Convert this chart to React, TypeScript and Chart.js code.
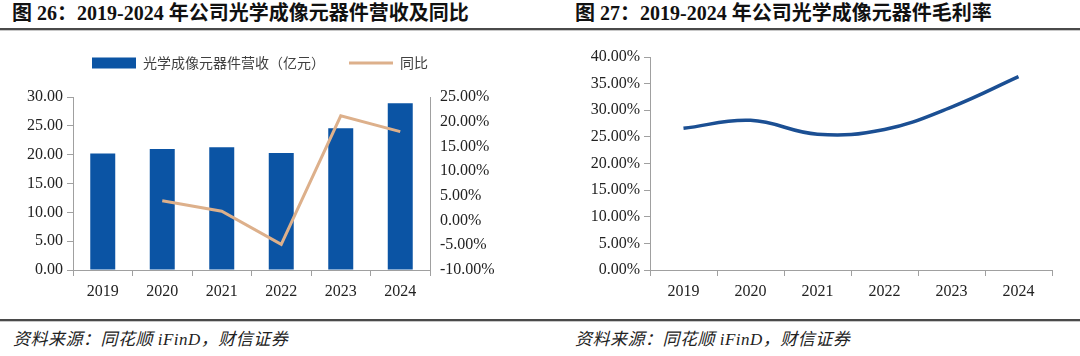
import React, { useEffect, useRef } from "react";
import { Chart, registerables } from "chart.js";

Chart.register(...registerables);

// ---------- data ----------
const years = ["2019", "2020", "2021", "2022", "2023", "2024"];
const revenue = [20.2, 21.0, 21.3, 20.3, 24.6, 28.9]; // 亿元
const yoyGrowth = [null, 4.0, 1.9, -4.8, 21.2, 18.0]; // %
const grossMargin = [26.6, 28.1, 25.5, 26.4, 30.6, 36.3]; // %

const revenueAxis = { min: 0, max: 30, step: 5 };
const growthAxis = { min: -10, max: 25, step: 5 };
const marginAxis = { min: 0, max: 40, step: 5 };

const revenueLabel = "光学成像元器件营收（亿元）";
const growthLabel = "同比";
const title1 = "图 26：2019-2024 年公司光学成像元器件营收及同比";
const title2 = "图 27：2019-2024 年公司光学成像元器件毛利率";
const sourceText = "资料来源：同花顺 iFinD，财信证券";

// ---------- styles ----------
const BAR_COLOR = "#0b54a4";
const GROWTH_COLOR = "#ddb08b";
const MARGIN_COLOR = "#1b4f93";
const AXIS_COLOR = "#a0a0a0";
const TICK_FONT = { family: "'Liberation Serif', 'Times New Roman', serif", size: 16 };
const TICK_COLOR = "#222";

const legendGap = (extra: number) => ({
  id: "legendGap",
  beforeInit(chart: any) {
    const lg = chart.legend;
    if (!lg || lg._gapPatched) return;
    const fit = lg.fit;
    lg.fit = function () {
      fit.call(this);
      this.height += extra;
    };
    lg._gapPatched = true;
  },
});

function RevenueChart() {
  const ref = useRef<HTMLCanvasElement>(null);
  useEffect(() => {
    if (!ref.current) return;
    const chart = new Chart(ref.current, {
      type: "bar",
      data: {
        labels: years,
        datasets: [
          {
            type: "bar",
            label: revenueLabel,
            data: revenue,
            backgroundColor: BAR_COLOR,
            borderWidth: 0,
            barPercentage: 0.42,
            categoryPercentage: 1,
            yAxisID: "y",
            pointStyle: "rect",
            order: 2,
          } as any,
          {
            type: "line",
            label: growthLabel,
            data: yoyGrowth,
            borderColor: GROWTH_COLOR,
            backgroundColor: GROWTH_COLOR,
            borderWidth: 3,
            pointRadius: 0,
            pointStyle: "line",
            tension: 0,
            yAxisID: "y1",
            order: 1,
          } as any,
        ],
      },
      options: {
        animation: false,
        responsive: false,
        events: [],
        layout: { padding: { top: 1, bottom: 1, left: 0, right: 0 } },
        plugins: {
          tooltip: { enabled: false },
          legend: {
            display: true,
            position: "top",
            labels: {
              usePointStyle: true,
              pointStyleWidth: 44,
              boxHeight: 11,
              padding: 24,
              color: "#404040",
              font: { family: "'Noto Sans CJK SC', sans-serif", size: 14 },
              sort: (a: any, b: any) => a.datasetIndex - b.datasetIndex,
            },
          },
        },
        scales: {
          x: {
            offset: true,
            grid: { display: true, drawOnChartArea: false, offset: true, tickLength: 6, color: AXIS_COLOR, tickColor: AXIS_COLOR },
            border: { display: true, color: AXIS_COLOR },
            ticks: { font: TICK_FONT, color: TICK_COLOR, padding: 6, maxRotation: 0 },
            afterFit: (s: any) => { s.height = 40; },
          },
          y: {
            position: "left",
            min: revenueAxis.min,
            max: revenueAxis.max,
            grid: { display: true, drawOnChartArea: false, tickLength: 6, color: AXIS_COLOR, tickColor: AXIS_COLOR },
            border: { display: true, color: AXIS_COLOR },
            ticks: {
              stepSize: revenueAxis.step,
              font: TICK_FONT,
              color: TICK_COLOR,
              padding: 4,
              callback: (v: any) => Number(v).toFixed(2),
            },
            afterFit: (s: any) => { s.width = 73; },
          },
          y1: {
            position: "right",
            min: growthAxis.min,
            max: growthAxis.max,
            grid: { display: true, drawOnChartArea: false, drawTicks: false, color: AXIS_COLOR },
            border: { display: true, color: AXIS_COLOR },
            ticks: {
              stepSize: growthAxis.step,
              font: TICK_FONT,
              color: TICK_COLOR,
              padding: 10,
              callback: (v: any) => Number(v).toFixed(2) + "%",
            },
            afterFit: (s: any) => { s.width = 90; },
          },
        },
      } as any,
      plugins: [legendGap(17)],
    });
    return () => chart.destroy();
  }, []);
  return (
    <canvas
      ref={ref}
      width={520}
      height={280}
      style={{ position: "absolute", left: 0, top: 31, width: 520, height: 280 }}
    />
  );
}

function MarginChart() {
  const ref = useRef<HTMLCanvasElement>(null);
  useEffect(() => {
    if (!ref.current) return;
    const chart = new Chart(ref.current, {
      type: "line",
      data: {
        labels: years,
        datasets: [
          {
            label: "毛利率",
            data: grossMargin,
            borderColor: MARGIN_COLOR,
            backgroundColor: MARGIN_COLOR,
            borderWidth: 3.5,
            pointRadius: 0,
            tension: 0.4,
            fill: false,
          },
        ],
      },
      options: {
        animation: false,
        responsive: false,
        events: [],
        layout: { padding: { top: 17, bottom: 2, left: 0, right: 28 } },
        plugins: { tooltip: { enabled: false }, legend: { display: false } },
        scales: {
          x: {
            offset: true,
            grid: { display: true, drawOnChartArea: false, offset: true, tickLength: 6, color: AXIS_COLOR, tickColor: AXIS_COLOR },
            border: { display: true, color: AXIS_COLOR },
            ticks: { font: TICK_FONT, color: TICK_COLOR, padding: 6, maxRotation: 0 },
            afterFit: (s: any) => { s.height = 40; },
          },
          y: {
            min: marginAxis.min,
            max: marginAxis.max,
            grid: { display: true, drawOnChartArea: false, tickLength: 6, color: AXIS_COLOR, tickColor: AXIS_COLOR },
            border: { display: true, color: AXIS_COLOR },
            ticks: {
              stepSize: marginAxis.step,
              font: TICK_FONT,
              color: TICK_COLOR,
              padding: 4,
              callback: (v: any) => Number(v).toFixed(2) + "%",
            },
            afterFit: (s: any) => { s.width = 110; },
          },
        },
      } as any,
    });
    return () => chart.destroy();
  }, []);
  return (
    <canvas
      ref={ref}
      width={540}
      height={272}
      style={{ position: "absolute", left: 540, top: 40, width: 540, height: 272 }}
    />
  );
}

const titleStyle: React.CSSProperties = {
  position: "absolute",
  top: 0,
  lineHeight: "26px",
  fontSize: 20,
  fontWeight: "bold",
  fontFamily: "'Liberation Serif', 'Noto Sans CJK SC', serif",
  color: "#111",
  whiteSpace: "nowrap",
};

const sourceStyle: React.CSSProperties = {
  position: "absolute",
  top: 330,
  lineHeight: "20px",
  fontSize: 17,
  letterSpacing: "0.5px",
  fontStyle: "italic",
  fontFamily: "'Liberation Serif', 'Noto Sans CJK SC', serif",
  color: "#222",
  whiteSpace: "nowrap",
};

export default function App() {
  return (
    <div
      style={{
        position: "absolute",
        left: 0,
        top: 0,
        width: 1080,
        height: 356,
        background: "#fff",
        overflow: "hidden",
      }}
    >
      <RevenueChart />
      <MarginChart />
      <div style={{ ...titleStyle, left: 12 }}>{title1}</div>
      <div style={{ ...titleStyle, left: 575 }}>{title2}</div>
      <div style={{ position: "absolute", left: 0, top: 28, width: 1080, height: 2, background: "#4a4a4a" }} />
      <div style={{ position: "absolute", left: 0, top: 30, width: 1080, height: 1, background: "#c8c8c8" }} />
      <div style={{ position: "absolute", left: 0, top: 319, width: 1080, height: 2, background: "#4a4a4a" }} />
      <div style={{ position: "absolute", left: 0, top: 321, width: 1080, height: 1, background: "#c8c8c8" }} />
      <div style={{ ...sourceStyle, left: 13 }}>{sourceText}</div>
      <div style={{ ...sourceStyle, left: 575 }}>{sourceText}</div>
    </div>
  );
}
